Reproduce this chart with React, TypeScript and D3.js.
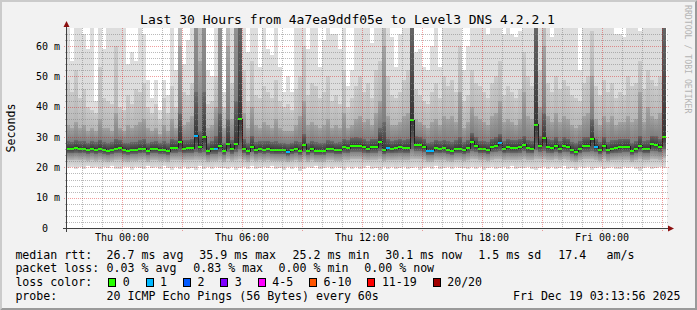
import React from 'react';
import * as d3 from 'd3';

// ---- data (12-minute consolidated steps, 150 columns over 30 hours) ----
const medianRtt = [
  26.1, 26.1, 26.5, 26.2, 26.2, 25.8, 26.2, 25.8, 26.2, 25.8,
  25.5, 25.8, 26.2, 26.5, 25.8, 25.5, 25.8, 25.8, 26.1, 26.2,
  25.5, 26.1, 26.1, 25.8, 25.8, 25.4, 26.5, 26.5, 28.4, 26.2,
  26.4, 26.4, 30.4, 26.7, 30.1, 25.4, 26.1, 26.1, 27.2, 25.5,
  27.7, 26.1, 27.7, 35.9, 26.1, 25.4, 26.8, 25.7, 26.1, 25.9,
  26.1, 25.9, 25.6, 25.7, 25.7, 25.2, 25.7, 26.1, 25.5, 27.5,
  25.5, 26.1, 25.5, 25.5, 25.5, 26.1, 26.1, 25.7, 25.7, 26.7,
  26.4, 27.2, 27.2, 27.2, 26.7, 26.1, 26.7, 26.7, 28.4, 25.7,
  26.4, 26.1, 26.4, 26.7, 26.4, 26.4, 35.6, 27.5, 27.5, 26.8,
  25.5, 25.5, 26.4, 26.1, 26.4, 25.9, 25.5, 26.1, 26.1, 25.7,
  26.4, 28.4, 27.2, 26.1, 26.1, 25.7, 26.8, 27.2, 28.2, 26.1,
  26.7, 26.4, 26.4, 26.7, 27.5, 26.4, 26.1, 34.1, 27.2, 29.8,
  26.7, 26.4, 27.2, 26.1, 27.2, 26.8, 25.7, 25.2, 26.1, 27.2,
  27.2, 29.5, 26.8, 25.7, 27.2, 25.7, 26.1, 26.4, 26.7, 26.8,
  26.8, 25.5, 26.1, 27.2, 26.1, 26.1, 27.7, 27.4, 26.8, 30.1,
];

const lossCount = [
  0, 0, 0, 0, 0, 0, 0, 0, 0, 0,
  0, 0, 0, 0, 0, 0, 0, 0, 0, 0,
  0, 0, 0, 0, 0, 0, 0, 0, 0, 0,
  0, 0, 1, 0, 0, 0, 0, 1, 0, 0,
  0, 0, 0, 0, 0, 0, 0, 0, 0, 0,
  0, 0, 0, 0, 0, 1, 0, 0, 0, 0,
  0, 0, 0, 0, 0, 0, 0, 0, 0, 0,
  0, 0, 0, 0, 0, 0, 0, 0, 0, 0,
  1, 0, 0, 0, 0, 0, 0, 0, 0, 0,
  1, 1, 0, 0, 0, 0, 0, 0, 0, 0,
  0, 0, 0, 0, 0, 0, 0, 0, 1, 0,
  0, 0, 0, 0, 0, 0, 0, 0, 0, 0,
  0, 0, 0, 0, 0, 0, 0, 0, 0, 0,
  0, 0, 1, 0, 0, 0, 0, 0, 0, 0,
  0, 0, 0, 0, 0, 0, 0, 0, 0, 0,
];

const pingMin = [
  19.8, 20.2, 19.6, 20.0, 19.5, 20.3, 19.7, 20.1, 19.4, 20.0,
  19.9, 20.4, 19.6, 19.5, 20.2, 20.0, 19.3, 20.1, 19.8, 19.6,
  20.3, 19.7, 20.0, 19.5, 20.4, 19.8, 19.2, 20.0, 19.6, 20.2,
  19.5, 19.9, 19.1, 20.3, 19.6, 20.0, 19.4, 20.2, 19.7, 19.9,
  19.5, 20.1, 19.3, 19.8, 20.0, 19.6, 20.4, 19.4, 19.9, 20.1,
  19.7, 20.3, 19.5, 19.9, 19.2, 20.0, 19.6, 20.2, 18.8, 19.5,
  20.0, 19.7, 20.3, 19.4, 19.8, 20.1, 19.5, 20.0, 19.7, 19.3,
  20.2, 19.6, 20.0, 19.4, 19.9, 20.3, 19.5, 19.8, 19.2, 20.0,
  19.6, 20.1, 19.4, 19.9, 20.2, 19.5, 19.7, 20.0, 19.3, 19.8,
  20.1, 19.6, 20.3, 19.5, 19.8, 20.0, 19.4, 20.2, 19.7, 19.9,
  19.5, 20.1, 19.6, 20.0, 19.3, 19.8, 20.2, 19.5, 19.9, 20.0,
  19.6, 20.3, 19.4, 19.9, 19.7, 20.1, 19.5, 19.0, 19.8, 20.0,
  19.4, 20.2, 19.6, 19.9, 20.3, 19.5, 19.8, 19.2, 20.0, 19.7,
  20.1, 19.3, 19.8, 20.0, 19.5, 19.9, 20.2, 19.6, 19.4, 20.0,
  19.7, 20.1, 19.5, 18.9, 19.9, 20.2, 19.6, 19.8, 20.0, 19.7,
];

const pingP3 = [
  22.4, 22.3, 22.5, 22.3, 22.4, 22.1, 22.4, 22.1, 22.4, 22.2,
  21.9, 22.1, 22.4, 22.5, 22.1, 21.9, 22.2, 22.1, 22.3, 22.4,
  21.9, 22.3, 22.3, 22.1, 22.2, 21.8, 22.5, 22.5, 22.4, 22.3,
  22.4, 22.4, 22.6, 22.5, 22.4, 21.8, 22.2, 22.2, 22.6, 21.9,
  22.7, 22.2, 22.6, 22.9, 22.3, 21.8, 22.6, 22.0, 22.3, 22.1,
  22.3, 22.1, 22.0, 22.0, 22.1, 21.7, 22.0, 22.3, 21.9, 22.6,
  21.9, 22.3, 21.9, 21.9, 21.9, 22.3, 22.3, 22.0, 22.0, 22.5,
  22.4, 22.7, 22.7, 22.7, 22.5, 22.3, 22.5, 22.5, 22.7, 22.0,
  22.4, 22.3, 22.4, 22.5, 22.4, 22.4, 22.8, 22.8, 22.7, 22.5,
  21.9, 21.9, 22.4, 22.3, 22.4, 22.1, 21.9, 22.3, 22.3, 22.0,
  22.4, 22.8, 22.7, 22.3, 22.3, 22.0, 22.5, 22.7, 22.7, 22.3,
  22.5, 22.4, 22.4, 22.5, 22.8, 22.4, 22.3, 22.8, 22.7, 22.8,
  22.5, 22.4, 22.7, 22.3, 22.7, 22.5, 22.0, 21.7, 22.3, 22.7,
  22.7, 22.8, 22.5, 22.0, 22.7, 22.0, 22.3, 22.4, 22.5, 22.5,
  22.5, 21.9, 22.3, 22.7, 22.3, 22.3, 22.8, 22.7, 22.5, 23.0,
];

const pingP7 = [
  24.6, 24.6, 24.8, 24.6, 24.7, 24.4, 24.7, 24.4, 24.7, 24.4,
  24.2, 24.4, 24.7, 24.8, 24.4, 24.2, 24.4, 24.4, 24.6, 24.7,
  24.2, 24.6, 24.6, 24.4, 24.4, 24.1, 24.8, 24.8, 25.0, 24.6,
  24.7, 24.7, 25.2, 24.9, 25.0, 24.1, 24.5, 24.5, 25.0, 24.2,
  25.2, 24.5, 25.1, 26.0, 24.6, 24.1, 25.0, 24.3, 24.6, 24.4,
  24.6, 24.4, 24.3, 24.3, 24.3, 23.9, 24.3, 24.6, 24.2, 25.2,
  24.2, 24.6, 24.2, 24.2, 24.2, 24.6, 24.6, 24.3, 24.3, 24.9,
  24.7, 25.2, 25.2, 25.2, 24.9, 24.6, 24.9, 24.9, 25.5, 24.3,
  24.7, 24.6, 24.7, 24.9, 24.7, 24.7, 26.0, 25.3, 25.3, 25.0,
  24.2, 24.2, 24.7, 24.6, 24.7, 24.4, 24.2, 24.6, 24.6, 24.3,
  24.7, 25.4, 25.2, 24.6, 24.6, 24.3, 25.0, 25.2, 25.3, 24.6,
  24.9, 24.7, 24.7, 24.9, 25.3, 24.7, 24.6, 25.8, 25.2, 25.5,
  24.9, 24.7, 25.2, 24.6, 25.2, 25.0, 24.3, 23.9, 24.6, 25.2,
  25.2, 25.3, 25.0, 24.3, 25.2, 24.3, 24.6, 24.7, 24.9, 25.0,
  25.0, 24.2, 24.6, 25.2, 24.6, 24.6, 25.5, 25.3, 25.0, 26.0,
];

const pingP14 = [
  28.6, 28.5, 29.0, 28.6, 28.8, 28.2, 28.7, 28.3, 29.2, 28.4,
  28.0, 28.3, 29.5, 29.0, 28.2, 28.1, 28.3, 28.5, 28.9, 29.3,
  28.0, 28.5, 28.7, 28.1, 28.6, 27.9, 29.4, 29.0, 38.0, 28.9,
  29.0, 29.5, 45.0, 32.0, 45.0, 28.0, 28.8, 30.5, 38.0, 28.2,
  36.0, 29.2, 42.0, 70.0, 29.5, 28.0, 30.5, 28.3, 28.6, 28.7,
  28.8, 28.5, 28.6, 28.2, 28.0, 27.8, 28.1, 28.7, 28.4, 31.0,
  28.2, 28.8, 28.3, 28.0, 28.2, 28.9, 28.6, 28.2, 28.3, 29.4,
  28.9, 29.8, 29.9, 29.8, 29.3, 28.8, 29.4, 29.5, 33.0, 35.0,
  29.3, 28.7, 29.0, 29.3, 29.1, 29.4, 70.0, 30.2, 30.0, 29.4,
  28.2, 28.3, 29.1, 28.7, 29.1, 28.6, 28.3, 28.9, 30.0, 28.4,
  29.1, 31.5, 29.9, 28.8, 28.7, 28.4, 29.5, 30.0, 31.0, 28.8,
  29.4, 29.1, 29.0, 29.4, 30.5, 29.2, 28.8, 70.0, 30.2, 38.0,
  29.4, 29.1, 30.0, 28.8, 29.9, 29.5, 28.4, 27.9, 28.8, 29.9,
  30.0, 36.0, 29.5, 28.4, 30.0, 28.4, 28.9, 29.1, 29.4, 29.5,
  29.5, 28.2, 28.8, 30.5, 28.8, 29.0, 30.5, 30.2, 29.5, 70.0,
];

const pingP17 = [
  34, 33, 35, 33, 34, 32, 33, 32, 36, 33,
  33, 32, 38, 33, 32, 34, 33, 34, 35, 36,
  33, 32, 33, 31, 34, 32, 36, 33, 60, 34,
  35, 37, 90, 55, 90, 33, 34, 40, 90, 33,
  60, 36, 90, 90, 38, 33, 40, 34, 33, 35,
  34, 33, 36, 33, 32, 32, 32, 34, 37, 42,
  34, 35, 34, 33, 34, 36, 33, 34, 33, 38,
  33, 34, 36, 37, 35, 36, 34, 38, 42, 60,
  37, 34, 34, 35, 37, 38, 90, 36, 35, 34,
  33, 35, 36, 34, 37, 36, 37, 35, 45, 33,
  35, 40, 37, 36, 35, 34, 37, 38, 42, 35,
  36, 35, 34, 36, 45, 37, 36, 90, 40, 60,
  37, 35, 38, 35, 37, 36, 34, 33, 34, 37,
  38, 50, 36, 34, 37, 35, 37, 34, 35, 35,
  37, 35, 36, 45, 35, 40, 37, 36, 38, 90,
];

const pingP19 = [
  49, 45, 52, 43, 46, 40, 39, 38, 53, 43,
  42, 41, 60, 40, 39, 44, 41, 46, 45, 48,
  40, 38, 41, 36, 43, 38, 47, 40, 90, 45,
  44, 48, 90, 90, 90, 41, 42, 50, 90, 40,
  90, 48, 90, 90, 52, 42, 55, 44, 43, 47,
  45, 43, 49, 42, 40, 41, 39, 46, 50, 60,
  44, 48, 47, 43, 45, 50, 42, 44, 41, 52,
  40, 43, 47, 50, 45, 48, 43, 52, 55, 90,
  50, 44, 43, 45, 49, 52, 90, 46, 44, 42,
  41, 45, 48, 43, 50, 47, 49, 45, 60, 42,
  44, 52, 48, 47, 45, 43, 48, 50, 55, 44,
  47, 45, 43, 46, 58, 50, 47, 90, 52, 90,
  48, 45, 50, 46, 49, 47, 44, 43, 42, 48,
  50, 65, 47, 44, 49, 45, 48, 43, 45, 44,
  50, 47, 48, 55, 46, 52, 49, 47, 50, 90,
];

const pingMax = [
  90, 55, 90, 90, 64, 59, 90, 42, 90, 59,
  90, 90, 90, 90, 90, 54, 58, 55, 90, 64,
  49, 43, 49, 39, 49, 44, 90, 52, 90, 54,
  62, 90, 90, 90, 90, 52, 50, 90, 90, 45,
  90, 90, 90, 90, 90, 58, 90, 90, 53, 90,
  59, 57, 90, 53, 45, 50, 45, 90, 90, 90,
  59, 90, 90, 53, 62, 90, 64, 64, 59, 90,
  47, 52, 90, 90, 90, 90, 61, 90, 90, 90,
  90, 63, 53, 64, 90, 90, 90, 58, 59, 53,
  52, 60, 90, 53, 90, 90, 90, 90, 90, 52,
  60, 90, 90, 90, 90, 64, 90, 90, 90, 64,
  90, 64, 63, 65, 90, 90, 90, 90, 90, 90,
  90, 63, 90, 90, 90, 90, 90, 90, 52, 90,
  90, 90, 90, 90, 90, 90, 90, 64, 64, 63,
  90, 90, 90, 65, 90, 90, 90, 90, 90, 90,
];

const yTickValues = [0, 10, 20, 30, 40, 50, 60];
const yTickLabels = ['0  ', '10 m', '20 m', '30 m', '40 m', '50 m', '60 m'];
const lossLabels = ['0', '1', '2', '3', '4-5', '6-10', '11-19', '20/20'];
const lossColors = ['#26ff00', '#00b8ff', '#0059ff', '#7e00ff', '#ff00ff', '#ff5500', '#ff0000', '#a10000'];
const titleText = 'Last 30 Hours from 4a7ea9ddf05e to Level3 DNS 4.2.2.1';
const legendRtt = ['median rtt:', '26.7 ms avg', '35.9 ms max', '25.2 ms min', '30.1 ms now', '1.5 ms sd', '17.4', 'am/s'];
const legendLoss = ['packet loss:', '0.03 % avg', '0.83 % max', '0.00 % min', '0.00 % now'];
const legendProbe = ['probe:', '20 ICMP Echo Pings (56 Bytes) every 60s'];
const stampText = 'Fri Dec 19 03:13:56 2025';

const startTime = new Date(Date.UTC(2025, 11, 17, 21, 15));
const endTime = new Date(Date.UTC(2025, 11, 19, 3, 15));
const STEP_MIN = 12;

const W = 697, H = 310;
const X0 = 67, X1 = 667, Y0 = 228, Y1 = 28;
const MONO = '"DejaVu Sans Mono", monospace';

function lossClass(n: number) {
  if (n <= 0) return 0;
  if (n === 1) return 1;
  if (n === 2) return 2;
  if (n === 3) return 3;
  if (n <= 5) return 4;
  if (n <= 10) return 5;
  if (n <= 19) return 6;
  return 7;
}

export default function App() {
  const x = d3.scaleUtc().domain([startTime, endTime]).range([X0, X1]);
  const y = d3.scaleLinear().domain([0, 66]).range([Y0, Y1]);
  const colX = (c: number) => x(d3.utcMinute.offset(startTime, c * STEP_MIN)) - 1;
  const colW = colX(1) - colX(0);

  const bands: [number[], number[], string][] = [
    [pingMin, pingP3, 'url(#sg0)'],
    [pingP3, pingP7, 'url(#sg1)'],
    [pingP7, medianRtt, 'url(#sg2)'],
    [medianRtt, pingP14, 'url(#sg3)'],
    [pingP14, pingP17, 'url(#sg4)'],
    [pingP17, pingP19, 'url(#sg5)'],
    [pingP19, pingMax, '#dddddd'],
  ];

  const gradStops: [string, string][] = [
    ['#dddddd', '#c4c4c4'],
    ['#b7b7b7', '#7e7e7e'],
    ['#6b6b6b', '#363636'],
    ['#363636', '#6b6b6b'],
    ['#7e7e7e', '#a4a4a4'],
    ['#b7b7b7', '#cacaca'],
  ];

  const stepPts: [number, number][] = medianRtt.map((m, c) => [colX(c), y(m)]);
  stepPts.push([colX(medianRtt.length), y(medianRtt[medianRtt.length - 1])]);
  const stepPath = d3.line().curve(d3.curveStepAfter)(stepPts) || '';

  const hours = d3.utcHour.range(startTime, endTime);
  const labelTimes = d3.utcHour.every(6)!.range(startTime, endTime);
  const fmt = d3.utcFormat('%a %H:%M');
  const yMinor = d3.range(2, 66, 2).filter((v) => v % 10 !== 0);
  const yMajor = d3.range(10, 66, 10);

  const minorStroke = 'rgba(130,130,130,0.55)';
  const majorStroke = 'rgba(215,0,0,0.38)';

  const charW = 6.98;
  const boxes: { bx: number; lx: number }[] = [];
  let bx = 108.3;
  lossLabels.forEach((lab) => {
    const lx = bx + 15;
    boxes.push({ bx, lx });
    bx = lx + lab.length * charW + 15.4;
  });

  const rowY = [258.5, 272.2, 286, 299.7];
  const rttX = [15.4, 106.6, 199.3, 292.6, 385.3, 478.3, 558.3, 606.6];
  const lossX = [15.4, 106.6, 193.3, 278.6, 364.3];
  const probeX = [15.4, 106.6];

  return (
    <svg width={W} height={H} style={{ position: 'absolute', left: 0, top: 0, display: 'block' }}
      xmlns="http://www.w3.org/2000/svg">
      <defs>
        {gradStops.map(([a, b], i) => (
          <linearGradient key={i} id={`sg${i}`} x1="0" y1="1" x2="0" y2="0">
            <stop offset="0" stopColor={a} />
            <stop offset="1" stopColor={b} />
          </linearGradient>
        ))}
        <clipPath id="canvasClip">
          <rect x={X0} y={Y1} width={X1 - X0} height={Y0 - Y1} />
        </clipPath>
      </defs>

      <rect x={0} y={0} width={W} height={H} fill="#f2f2f2" />
      <polygon points={`0,0 ${W},0 ${W - 2},2 2,2 2,${H - 2} 0,${H}`} fill="#cbcbcb" />
      <polygon points={`${W},0 ${W},${H} 0,${H} 2,${H - 2} ${W - 2},${H - 2} ${W - 2},2`} fill="#9a9a9a" />

      <rect x={X0} y={Y1} width={X1 - X0} height={Y0 - Y1} fill="#ffffff" />

      <g clipPath="url(#canvasClip)" shapeRendering="crispEdges">
        {bands.map(([lo, hi, fill], bi) =>
          medianRtt.map((_, c) => {
            const yTop = y(Math.max(lo[c], hi[c]));
            const yBot = y(Math.min(lo[c], hi[c]));
            const h = yBot - yTop;
            if (h <= 0) return null;
            return <rect key={`b${bi}-${c}`} x={colX(c)} y={yTop} width={colW} height={h} fill={fill} />;
          })
        )}
        <path d={stepPath} fill="none" stroke="#202020" strokeWidth={1} />
        {medianRtt.map((m, c) => (
          <rect key={`m${c}`} x={colX(c)} y={y(m) - 1} width={colW} height={2}
            fill={lossColors[lossClass(lossCount[c])]} />
        ))}
      </g>

      <g shapeRendering="crispEdges" strokeDasharray="1 1">
        {yMinor.map((v) => (
          <line key={`ym${v}`} x1={X0 - 2} x2={X1 + 2} y1={Math.round(y(v)) + 0.5} y2={Math.round(y(v)) + 0.5}
            stroke={minorStroke} />
        ))}
        {hours.filter((t) => t.getUTCHours() % 3 !== 0).map((t) => (
          <line key={`xm${+t}`} x1={Math.round(x(t)) + 0.5} x2={Math.round(x(t)) + 0.5} y1={Y1} y2={Y0 + 2}
            stroke={minorStroke} />
        ))}
        {yMajor.map((v) => (
          <line key={`yM${v}`} x1={X0 - 3} x2={X1 + 2} y1={Math.round(y(v)) + 0.5} y2={Math.round(y(v)) + 0.5}
            stroke={majorStroke} />
        ))}
        {hours.filter((t) => t.getUTCHours() % 3 === 0).map((t) => (
          <line key={`xM${+t}`} x1={Math.round(x(t)) + 0.5} x2={Math.round(x(t)) + 0.5} y1={Y1} y2={Y0 + 3}
            stroke={majorStroke} />
        ))}
      </g>

      <g shapeRendering="crispEdges">
        <line x1={X0 - 4} x2={X1 + 4} y1={Y0 + 0.5} y2={Y0 + 0.5} stroke="#404040" />
        <line x1={X0 - 0.5} x2={X0 - 0.5} y1={Y0 + 4} y2={Y1 - 4} stroke="#404040" />
      </g>
      <polygon points={`${X1 + 1},${Y0 - 2.5} ${X1 + 7},${Y0 + 0.5} ${X1 + 1},${Y0 + 3.5}`} fill="#8c1010" />
      <polygon points={`${X0 - 3.5},${Y1 - 1} ${X0 - 0.5},${Y1 - 7} ${X0 + 2.5},${Y1 - 1}`} fill="#8c1010" />

      <g fontFamily={MONO} fontSize={10} fill="#000">
        {yTickValues.map((v, i) => (
          <text key={`yl${v}`} x={60} y={y(v) + 3.6} textAnchor="end" style={{ whiteSpace: 'pre' }}>
            {yTickLabels[i]}
          </text>
        ))}
        {labelTimes.map((t) => (
          <text key={`xl${+t}`} x={x(t)} y={241} textAnchor="middle">{fmt(t)}</text>
        ))}
      </g>

      <text x={347.5} y={23.5} textAnchor="middle" fontFamily={MONO} fontSize={13} fill="#000">{titleText}</text>
      <text transform="translate(15,128) rotate(-90)" textAnchor="middle" fontFamily={MONO} fontSize={11.6}
        fill="#000">Seconds</text>
      <text transform="translate(685,5) rotate(90)" textAnchor="start" fontFamily={MONO} fontSize={8.2}
        fill="#b4b4b4">RRDTOOL / TOBI OETIKER</text>

      <g fontFamily={MONO} fontSize={11.6} fill="#000" style={{ whiteSpace: 'pre' }}>
        {legendRtt.map((s, i) => (
          <text key={`r${i}`} x={rttX[i]} y={rowY[0]}>{s}</text>
        ))}
        {legendLoss.map((s, i) => (
          <text key={`l${i}`} x={lossX[i]} y={rowY[1]}>{s}</text>
        ))}
        <text x={15.4} y={rowY[2]}>loss color:</text>
        {boxes.map((b, i) => (
          <g key={`bx${i}`}>
            <rect x={Math.round(b.bx) + 0.5} y={278.5} width={7} height={8} fill={lossColors[i]} stroke="#000"
              shapeRendering="crispEdges" />
            <text x={b.lx - 0.6} y={rowY[2]}>{lossLabels[i]}</text>
          </g>
        ))}
        {legendProbe.map((s, i) => (
          <text key={`p${i}`} x={probeX[i]} y={rowY[3]}>{s}</text>
        ))}
        <text x={680.5} y={rowY[3]} textAnchor="end">{stampText}</text>
      </g>
    </svg>
  );
}
